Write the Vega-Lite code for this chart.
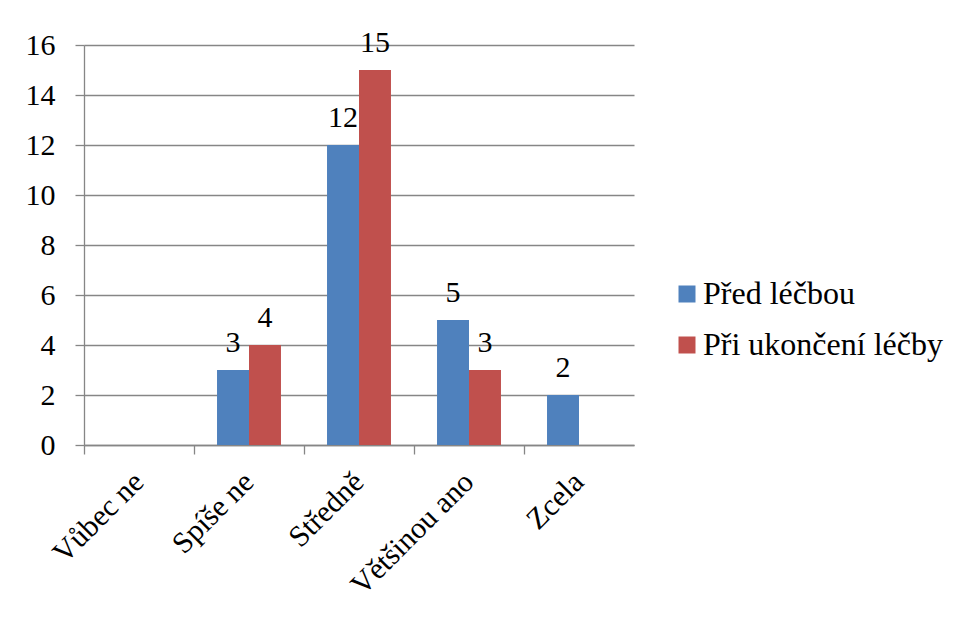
{
  "$schema": "https://vega.github.io/schema/vega-lite/v6.json",
  "width": 550,
  "height": 400,
  "autosize": {"type": "none"},
  "padding": {"left": 84, "top": 45, "right": 320, "bottom": 174},
  "background": "white",
  "config": {
    "view": {"stroke": null},
    "font": "Liberation Serif",
    "text": {"font": "Liberation Serif"},
    "axis": {"labelFont": "Liberation Serif"},
    "legend": {"labelFont": "Liberation Serif"}
  },
  "data": {
    "values": [
      {"kat": "Spíše ne", "skupina": "Před léčbou", "pocet": 3},
      {"kat": "Spíše ne", "skupina": "Při ukončení léčby", "pocet": 4},
      {"kat": "Středně", "skupina": "Před léčbou", "pocet": 12},
      {"kat": "Středně", "skupina": "Při ukončení léčby", "pocet": 15},
      {"kat": "Většinou ano", "skupina": "Před léčbou", "pocet": 5},
      {"kat": "Většinou ano", "skupina": "Při ukončení léčby", "pocet": 3},
      {"kat": "Zcela", "skupina": "Před léčbou", "pocet": 2}
    ]
  },
  "encoding": {
    "xOffset": {
      "field": "skupina",
      "type": "nominal",
      "scale": {"domain": ["Před léčbou", "Při ukončení léčby"], "paddingInner": 0, "paddingOuter": 0.72}
    },
    "y": {
      "field": "pocet",
      "type": "quantitative",
      "scale": {"domain": [0, 16], "nice": false},
      "axis": {
        "title": null,
        "values": [0, 2, 4, 6, 8, 10, 12, 14, 16],
        "grid": true,
        "gridColor": "#868686",
        "gridWidth": 1.3,
        "domainColor": "#868686",
        "domainWidth": 1.3,
        "tickColor": "#868686",
        "tickWidth": 1.3,
        "tickSize": 9,
        "labelPadding": 20,
        "labelFontSize": 30,
        "labelColor": "black"
      }
    }
  },
  "resolve": {"axis": {"x": "independent"}},
  "layer": [
    {
      "mark": {"type": "bar"},
      "encoding": {
        "x": {
          "field": "kat",
          "type": "nominal",
          "sort": null,
          "scale": {"domain": ["Vůbec ne", "Spíše ne", "Středně", "Většinou ano", "Zcela"], "paddingInner": 0, "paddingOuter": 0},
          "axis": {
            "orient": "bottom",
            "title": null,
            "labels": false,
            "bandPosition": 0,
            "ticks": true,
            "tickSize": 9,
            "tickColor": "#868686",
            "tickWidth": 1.3,
            "domainColor": "#868686",
            "domainWidth": 1.3,
            "grid": false
          }
        },
        "color": {
          "field": "skupina",
          "type": "nominal",
          "scale": {"domain": ["Před léčbou", "Při ukončení léčby"], "range": ["#4F81BD", "#C0504D"]},
          "legend": {
            "title": null,
            "orient": "none",
            "legendX": 587,
            "legendY": 233,
            "symbolType": "square",
            "symbolSize": 289,
            "symbolStrokeWidth": 0,
            "symbolOpacity": 1,
            "labelFontSize": 32,
            "labelColor": "black",
            "labelOffset": 0,
            "rowPadding": 19,
            "labelLimit": 400
          }
        }
      }
    },
    {
      "mark": {"type": "text", "baseline": "alphabetic", "dy": -18, "fontSize": 30, "color": "black"},
      "encoding": {
        "x": {
          "field": "kat",
          "type": "nominal",
          "sort": null,
          "scale": {"domain": ["Vůbec ne", "Spíše ne", "Středně", "Většinou ano", "Zcela"], "paddingInner": 0, "paddingOuter": 0},
          "axis": {
            "orient": "bottom",
            "title": null,
            "labelAngle": -45,
            "labelAlign": "right",
            "labelBaseline": "middle",
            "ticks": false,
            "domain": false,
            "labelPadding": 32,
            "labelFontSize": 30,
            "labelColor": "black",
            "labelLimit": 300,
            "grid": false
          }
        },
        "text": {"field": "pocet", "type": "quantitative"}
      }
    }
  ]
}
